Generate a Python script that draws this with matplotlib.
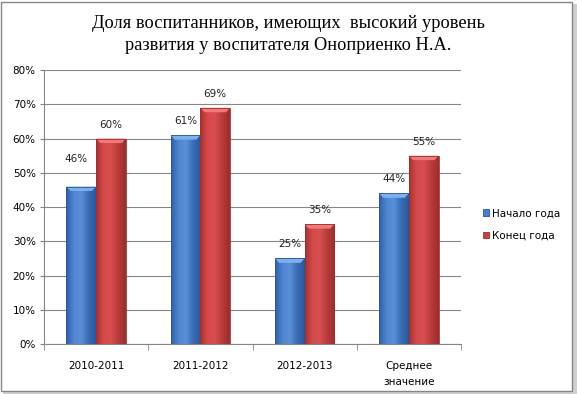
import numpy as np
import matplotlib
matplotlib.use("Agg")
import matplotlib.pyplot as plt
from matplotlib.colors import LinearSegmentedColormap
from matplotlib.patches import Rectangle, Polygon

categories = ["2010-2011", "2011-2012", "2012-2013", "Среднее\nзначение"]
start_vals = [46, 61, 25, 44]
end_vals = [60, 69, 35, 55]
series_names = ["Начало года", "Конец года"]
title = "Доля воспитанников, имеющих  высокий уровень\nразвития у воспитателя Оноприенко Н.А."

fig = plt.figure(figsize=(5.77, 3.94), dpi=100)
ax = fig.add_axes([0.0763, 0.127, 0.7227, 0.695])

# figure frame with a light shadow
fig.patches.append(Rectangle((0.006, 0.0), 0.994, 0.99, transform=fig.transFigure,
                             facecolor="#d0d0d0", edgecolor="none", zorder=-2))
fig.patches.append(Rectangle((0.002, 0.008), 0.99, 0.988, transform=fig.transFigure,
                             facecolor="white", edgecolor="#868686", lw=1.0, zorder=-1))

blue_cm = LinearSegmentedColormap.from_list("b", ["#2f5fa6", "#4f86d2", "#5a8fd8", "#3a6cb5", "#2b5797"])
red_cm = LinearSegmentedColormap.from_list("r", ["#a83232", "#d44a4a", "#d94e4e", "#b83a3a", "#9c2e2e"])

x = np.arange(len(categories))
w = 0.285
grad = np.linspace(0, 1, 64).reshape(1, -1)


def draw_bars(xs, vals, cmap, edge, top):
    bars = ax.bar(xs, vals, w, color="none", edgecolor=edge, lw=0.6, zorder=3)
    for b in bars:
        x0, x1, h = b.get_x(), b.get_x() + b.get_width(), b.get_height()
        im = ax.imshow(grad, cmap=cmap, aspect="auto", zorder=2.5,
                       extent=[x0, x1, 0, h])
        im.set_clip_path(b)
        # bevel at the top of the bar
        ax.add_patch(Polygon([(x0, h), (x1, h), (x1 - 0.04, h - 1.3), (x0 + 0.04, h - 1.3)],
                             closed=True, facecolor=top, edgecolor="none", zorder=2.8))
    return bars


b1 = draw_bars(x - w / 2, start_vals, blue_cm, "#2b5797", "#7fb0ee")
b2 = draw_bars(x + w / 2, end_vals, red_cm, "#9c2e2e", "#f07a7a")

# label (series, category) -> (dx, dy) placement tweaks
label_shift = {(0, 0): (-0.05, 7.9)}
for si, (bars, vals) in enumerate([(b1, start_vals), (b2, end_vals)]):
    for ci, (b, v) in enumerate(zip(bars, vals)):
        dx, dy = label_shift.get((si, ci), (0, 4.1))
        ax.text(b.get_x() + b.get_width() / 2 + dx, v + dy, f"{v}%",
                ha="center", va="center", fontsize=7.5, color="#222222")

ax.set_xlim(-0.5, len(categories) - 0.5)
ax.set_ylim(0, 80)
ax.set_yticks(range(0, 81, 10))
ax.set_yticklabels([f"{t}%" for t in range(0, 81, 10)], fontsize=7.5)
ax.set_xticks(x)
ax.set_xticklabels(categories, fontsize=7.5, linespacing=1.75)
ax.set_xticks(np.arange(-0.5, len(categories), 1), minor=True)
ax.tick_params(axis="x", which="major", length=0, pad=12)
ax.tick_params(axis="x", which="minor", length=4, color="#868686")
ax.tick_params(axis="y", length=3, color="#868686", pad=3)
ax.grid(axis="y", color="#868686", lw=0.8, zorder=0)
for s in ["top", "right"]:
    ax.spines[s].set_visible(False)
for s in ["left", "bottom"]:
    ax.spines[s].set_color("#868686")

handles = [Rectangle((0, 0), 1, 1, facecolor="#4a7fc9", edgecolor="#2b5797", lw=0.6),
           Rectangle((0, 0), 1, 1, facecolor="#c84040", edgecolor="#9c2e2e", lw=0.6)]
fig.legend(handles, series_names, loc="center left", bbox_to_anchor=(0.82, 0.43),
           frameon=False, fontsize=7.5, handlelength=0.6, handleheight=0.6,
           handletextpad=0.3, labelspacing=1.2)

fig.text(0.5, 0.962, title, ha="center", va="top", fontsize=13.2,
         family="Liberation Serif", linespacing=1.4)

fig.savefig("out.png", dpi=100)
